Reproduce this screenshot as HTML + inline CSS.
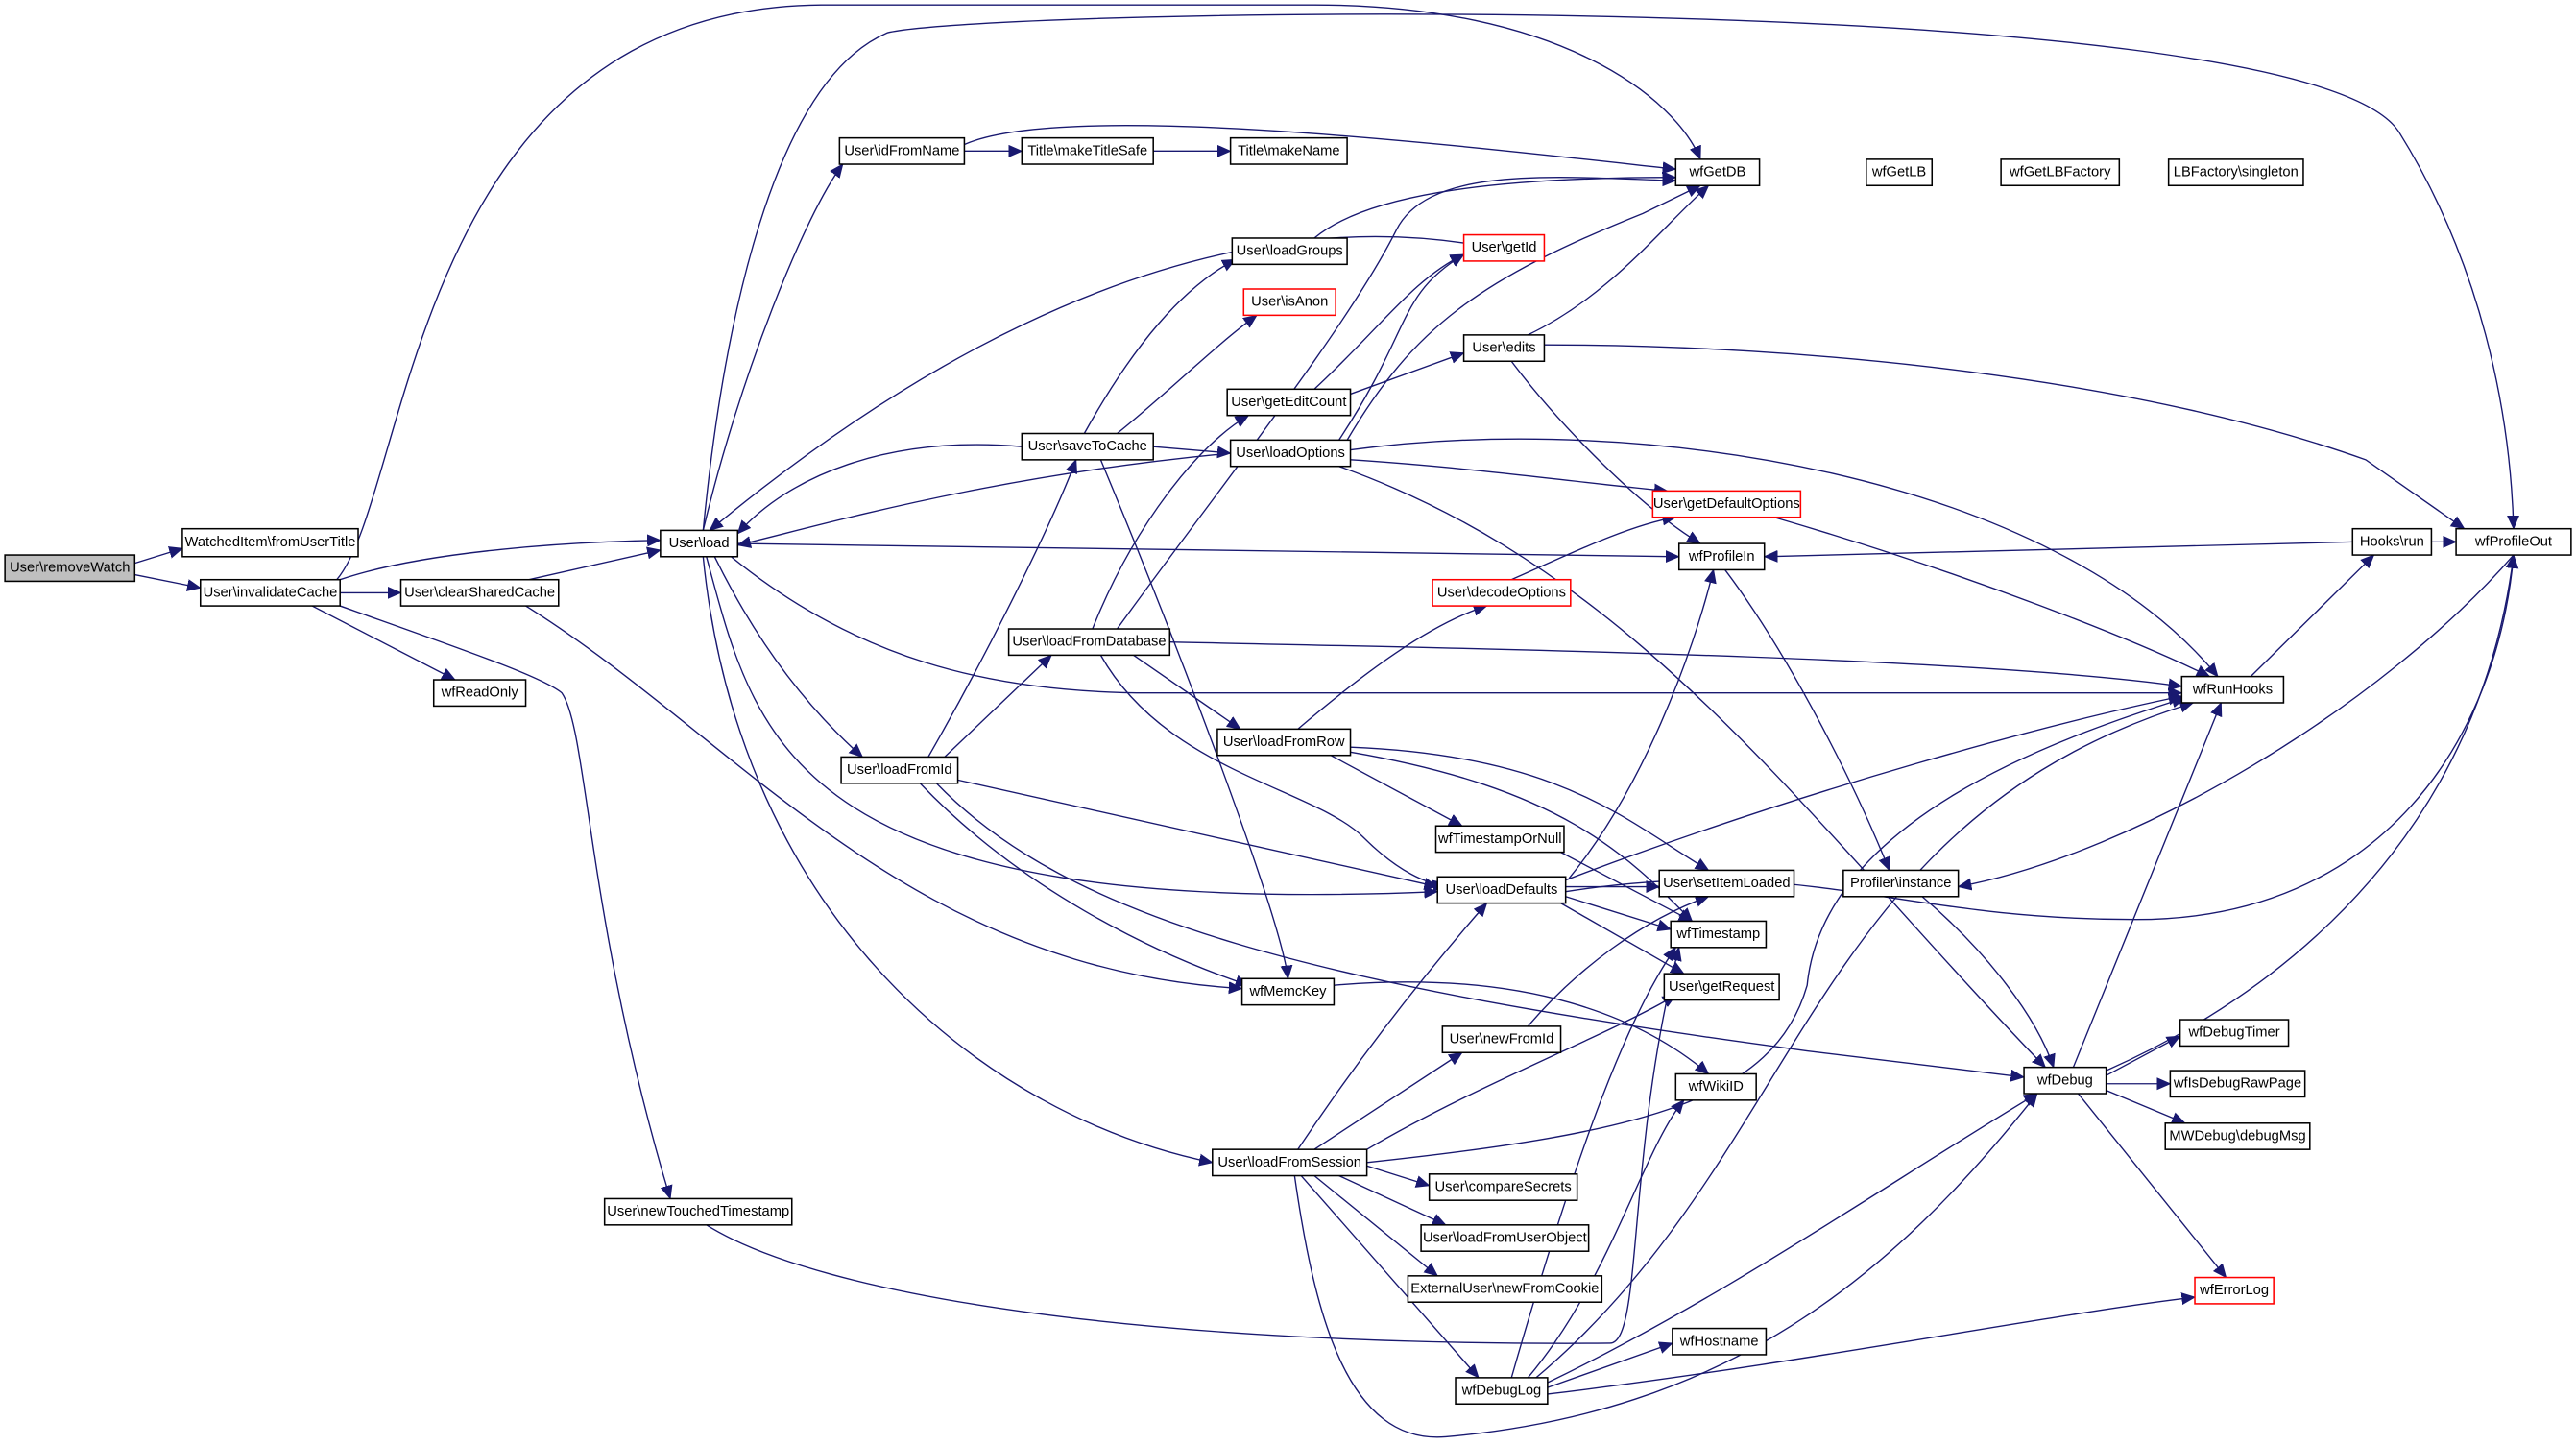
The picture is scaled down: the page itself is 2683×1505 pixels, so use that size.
<!DOCTYPE html>
<html><head><meta charset="utf-8"><style>
html,body{margin:0;padding:0;background:#fff;}
svg{display:block}
text{font-family:"Liberation Sans",sans-serif;font-size:8.6px;fill:#000;text-anchor:middle;dominant-baseline:central}
.n{fill:#fff;stroke:#000;stroke-width:0.9}
.r{fill:#fff;stroke:#f00;stroke-width:0.9}
.g{fill:#bfbfbf;stroke:#000;stroke-width:0.9}
.e path{fill:none;stroke:#191970;stroke-width:0.8;marker-end:url(#a)}
</style></head><body>
<svg width="2683" height="1505" viewBox="0 0 1568 880" preserveAspectRatio="none" xmlns="http://www.w3.org/2000/svg">
<defs><marker id="a" markerUnits="userSpaceOnUse" markerWidth="9" markerHeight="8" refX="8" refY="4" orient="auto"><path d="M0,0.5 L8,4 L0,7.5 Z" fill="#191970" stroke="#191970" stroke-width="0.5"/></marker></defs>
<g class="e">
<path d="M82,343 L111,334"/>
<path d="M82,350 L122,358"/>
<path d="M207,353 C260,335 350,330 402,329"/>
<path d="M207,361 L244,361"/>
<path d="M190,369 L277,414"/>
<path d="M207,369 C280,395 330,412 342,422 C358,445 357,560 408,730"/>
<path d="M205,353 C250,300 250,5 500,3 L800,3 C950,3 1020,60 1035,97"/>
<path d="M322,353 L402,335"/>
<path d="M320,369 C450,450 550,590 756,602"/>
<path d="M428,323 C450,230 490,130 513,100"/>
<path d="M428,323 C440,200 470,50 540,20 C600,5 1400,-10 1460,80 C1510,160 1528,250 1530,322"/>
<path d="M449,331 L1022,339"/>
<path d="M445,339 C520,400 600,422 700,422 L1328,422"/>
<path d="M435,339 C460,390 490,430 525,461"/>
<path d="M430,339 C460,450 480,560 875,543"/>
<path d="M428,339 C450,560 600,680 738,708"/>
<path d="M622,272 C540,265 480,290 449,325"/>
<path d="M749,276 C600,290 500,320 449,332"/>
<path d="M891,148 C700,120 520,250 432,323"/>
<path d="M587,92 L622,92"/>
<path d="M702,92 L749,92"/>
<path d="M587,88 C650,60 900,90 1020,103"/>
<path d="M800,145 C830,120 900,108 1020,108"/>
<path d="M660,264 C690,210 720,175 752,158"/>
<path d="M680,264 C710,240 740,210 765,192"/>
<path d="M702,272 L749,276"/>
<path d="M670,280 C720,400 780,560 784,596"/>
<path d="M665,383 C690,320 730,270 760,253"/>
<path d="M680,383 C740,300 820,200 850,140 C870,100 950,108 1020,110"/>
<path d="M712,391 C900,395 1200,400 1328,418"/>
<path d="M690,399 L755,444"/>
<path d="M670,399 C710,470 800,480 830,510 C850,530 870,540 880,538"/>
<path d="M565,461 C600,400 640,320 655,280"/>
<path d="M575,461 L640,399"/>
<path d="M583,475 L875,540"/>
<path d="M560,477 C620,540 700,580 760,600"/>
<path d="M570,477 C650,560 800,600 1100,640 L1232,656"/>
<path d="M800,237 C840,200 860,170 891,155"/>
<path d="M822,240 L891,215"/>
<path d="M820,268 C860,200 900,170 1000,130 L1035,113"/>
<path d="M815,268 C860,200 850,180 891,155"/>
<path d="M822,280 C900,285 970,295 1015,299"/>
<path d="M822,274 C1000,250 1250,290 1350,412"/>
<path d="M815,284 C1000,350 1100,500 1245,650"/>
<path d="M930,204 C980,180 1010,140 1040,113"/>
<path d="M940,210 C1100,210 1300,230 1440,280 L1500,322"/>
<path d="M920,220 C950,260 1000,310 1035,331"/>
<path d="M1080,315 C1200,350 1300,390 1345,412"/>
<path d="M920,353 C950,340 990,320 1020,315"/>
<path d="M790,444 C830,410 870,380 905,369"/>
<path d="M810,460 L890,503"/>
<path d="M822,455 C950,460 990,500 1040,530"/>
<path d="M822,458 C950,480 990,520 1030,561"/>
<path d="M950,519 L1030,561"/>
<path d="M955,535 C1000,480 1030,400 1043,347"/>
<path d="M953,536 C1100,480 1250,440 1328,424"/>
<path d="M953,540 L1010,540"/>
<path d="M953,546 L1017,566"/>
<path d="M950,550 L1025,593"/>
<path d="M953,543 C1100,520 1150,560 1300,560 C1450,560 1520,450 1530,338"/>
<path d="M1050,347 C1090,400 1130,480 1150,530"/>
<path d="M1170,546 C1210,580 1240,620 1250,650"/>
<path d="M1530,338 C1450,430 1300,520 1192,540"/>
<path d="M1432,330 L1074,339"/>
<path d="M1480,330 L1495,330"/>
<path d="M1370,412 L1445,338"/>
<path d="M1262,650 L1352,428"/>
<path d="M1282,655 L1327,631"/>
<path d="M1282,660 L1321,660"/>
<path d="M1282,664 L1330,684"/>
<path d="M1265,666 L1355,778"/>
<path d="M1282,652 C1400,600 1510,500 1530,338"/>
<path d="M812,600 C930,590 1000,620 1040,654"/>
<path d="M930,625 C960,590 1000,560 1040,546"/>
<path d="M790,700 C830,640 870,590 905,550"/>
<path d="M800,700 L890,641"/>
<path d="M832,700 C900,660 980,630 1020,606"/>
<path d="M832,708 C1000,690 1080,670 1100,600 C1110,500 1250,450 1330,425"/>
<path d="M832,710 L870,722"/>
<path d="M815,716 L880,746"/>
<path d="M800,716 L875,777"/>
<path d="M792,716 L900,839"/>
<path d="M788,716 C800,800 820,880 880,875 C1050,860 1150,780 1240,666"/>
<path d="M430,746 C500,790 700,820 980,818 C1000,818 990,700 1022,577"/>
<path d="M942,842 C1050,790 1150,720 1240,666"/>
<path d="M942,849 C1100,830 1250,800 1336,790"/>
<path d="M930,839 C980,780 1000,700 1025,670"/>
<path d="M920,839 C960,700 990,620 1020,577"/>
<path d="M935,839 C1100,700 1100,500 1335,428"/>
<path d="M942,845 L1018,818"/>
</g>
<g>
<rect class="g" x="3" y="338" width="79" height="16"/><text x="42.5" y="346">User\removeWatch</text>
<rect class="n" x="111" y="322" width="107" height="17"/><text x="164.5" y="330.5">WatchedItem\fromUserTitle</text>
<rect class="n" x="122" y="353" width="85" height="16"/><text x="164.5" y="361">User\invalidateCache</text>
<rect class="n" x="244" y="353" width="96" height="16"/><text x="292" y="361">User\clearSharedCache</text>
<rect class="n" x="264" y="414" width="56" height="16"/><text x="292" y="422">wfReadOnly</text>
<rect class="n" x="368" y="730" width="114" height="16"/><text x="425" y="738">User\newTouchedTimestamp</text>
<rect class="n" x="402" y="323" width="47" height="16"/><text x="425.5" y="331">User\load</text>
<rect class="n" x="511" y="84" width="76" height="16"/><text x="549" y="92">User\idFromName</text>
<rect class="n" x="622" y="84" width="80" height="16"/><text x="662" y="92">Title\makeTitleSafe</text>
<rect class="n" x="749" y="84" width="71" height="16"/><text x="784.5" y="92">Title\makeName</text>
<rect class="n" x="750" y="145" width="70" height="16"/><text x="785" y="153">User\loadGroups</text>
<rect class="r" x="757" y="176" width="56" height="16"/><text x="785" y="184">User\isAnon</text>
<rect class="n" x="747" y="237" width="75" height="16"/><text x="784.5" y="245">User\getEditCount</text>
<rect class="n" x="622" y="264" width="80" height="16"/><text x="662" y="272">User\saveToCache</text>
<rect class="n" x="749" y="268" width="73" height="16"/><text x="785.5" y="276">User\loadOptions</text>
<rect class="n" x="614" y="383" width="98" height="16"/><text x="663" y="391">User\loadFromDatabase</text>
<rect class="n" x="741" y="444" width="81" height="16"/><text x="781.5" y="452">User\loadFromRow</text>
<rect class="n" x="512" y="461" width="71" height="16"/><text x="547.5" y="469">User\loadFromId</text>
<rect class="n" x="756" y="596" width="56" height="16"/><text x="784" y="604">wfMemcKey</text>
<rect class="n" x="738" y="700" width="94" height="16"/><text x="785" y="708">User\loadFromSession</text>
<rect class="n" x="870" y="715" width="90" height="16"/><text x="915" y="723">User\compareSecrets</text>
<rect class="n" x="865" y="746" width="102" height="16"/><text x="916" y="754">User\loadFromUserObject</text>
<rect class="n" x="857" y="777" width="118" height="16"/><text x="916" y="785">ExternalUser\newFromCookie</text>
<rect class="n" x="886" y="839" width="56" height="16"/><text x="914" y="847">wfDebugLog</text>
<rect class="n" x="1018" y="809" width="57" height="16"/><text x="1046.5" y="817">wfHostname</text>
<rect class="n" x="878" y="625" width="72" height="16"/><text x="914" y="633">User\newFromId</text>
<rect class="n" x="874" y="503" width="78" height="16"/><text x="913" y="511">wfTimestampOrNull</text>
<rect class="n" x="875" y="534" width="78" height="16"/><text x="914" y="542">User\loadDefaults</text>
<rect class="r" x="872" y="353" width="84" height="16"/><text x="914" y="361">User\decodeOptions</text>
<rect class="n" x="891" y="204" width="49" height="16"/><text x="915.5" y="212">User\edits</text>
<rect class="r" x="891" y="143" width="49" height="16"/><text x="915.5" y="151">User\getId</text>
<rect class="n" x="1020" y="97" width="51" height="16"/><text x="1045.5" y="105">wfGetDB</text>
<rect class="n" x="1136" y="97" width="40" height="16"/><text x="1156" y="105">wfGetLB</text>
<rect class="n" x="1218" y="97" width="72" height="16"/><text x="1254" y="105">wfGetLBFactory</text>
<rect class="n" x="1320" y="97" width="82" height="16"/><text x="1361" y="105">LBFactory\singleton</text>
<rect class="r" x="1006" y="299" width="90" height="16"/><text x="1051" y="307">User\getDefaultOptions</text>
<rect class="n" x="1022" y="331" width="52" height="16"/><text x="1048" y="339">wfProfileIn</text>
<rect class="n" x="1010" y="530" width="82" height="16"/><text x="1051" y="538">User\setItemLoaded</text>
<rect class="n" x="1017" y="561" width="58" height="16"/><text x="1046" y="569">wfTimestamp</text>
<rect class="n" x="1013" y="593" width="70" height="16"/><text x="1048" y="601">User\getRequest</text>
<rect class="n" x="1020" y="654" width="49" height="16"/><text x="1044.5" y="662">wfWikiID</text>
<rect class="n" x="1122" y="530" width="70" height="16"/><text x="1157" y="538">Profiler\instance</text>
<rect class="n" x="1232" y="650" width="50" height="16"/><text x="1257" y="658">wfDebug</text>
<rect class="n" x="1432" y="322" width="48" height="16"/><text x="1456" y="330">Hooks\run</text>
<rect class="n" x="1495" y="322" width="70" height="16"/><text x="1530" y="330">wfProfileOut</text>
<rect class="n" x="1328" y="412" width="62" height="16"/><text x="1359" y="420">wfRunHooks</text>
<rect class="n" x="1327" y="621" width="66" height="16"/><text x="1360" y="629">wfDebugTimer</text>
<rect class="n" x="1321" y="652" width="82" height="16"/><text x="1362" y="660">wfIsDebugRawPage</text>
<rect class="n" x="1318" y="684" width="88" height="16"/><text x="1362" y="692">MWDebug\debugMsg</text>
<rect class="r" x="1336" y="778" width="48" height="16"/><text x="1360" y="786">wfErrorLog</text>
</g>
</svg>
</body></html>
